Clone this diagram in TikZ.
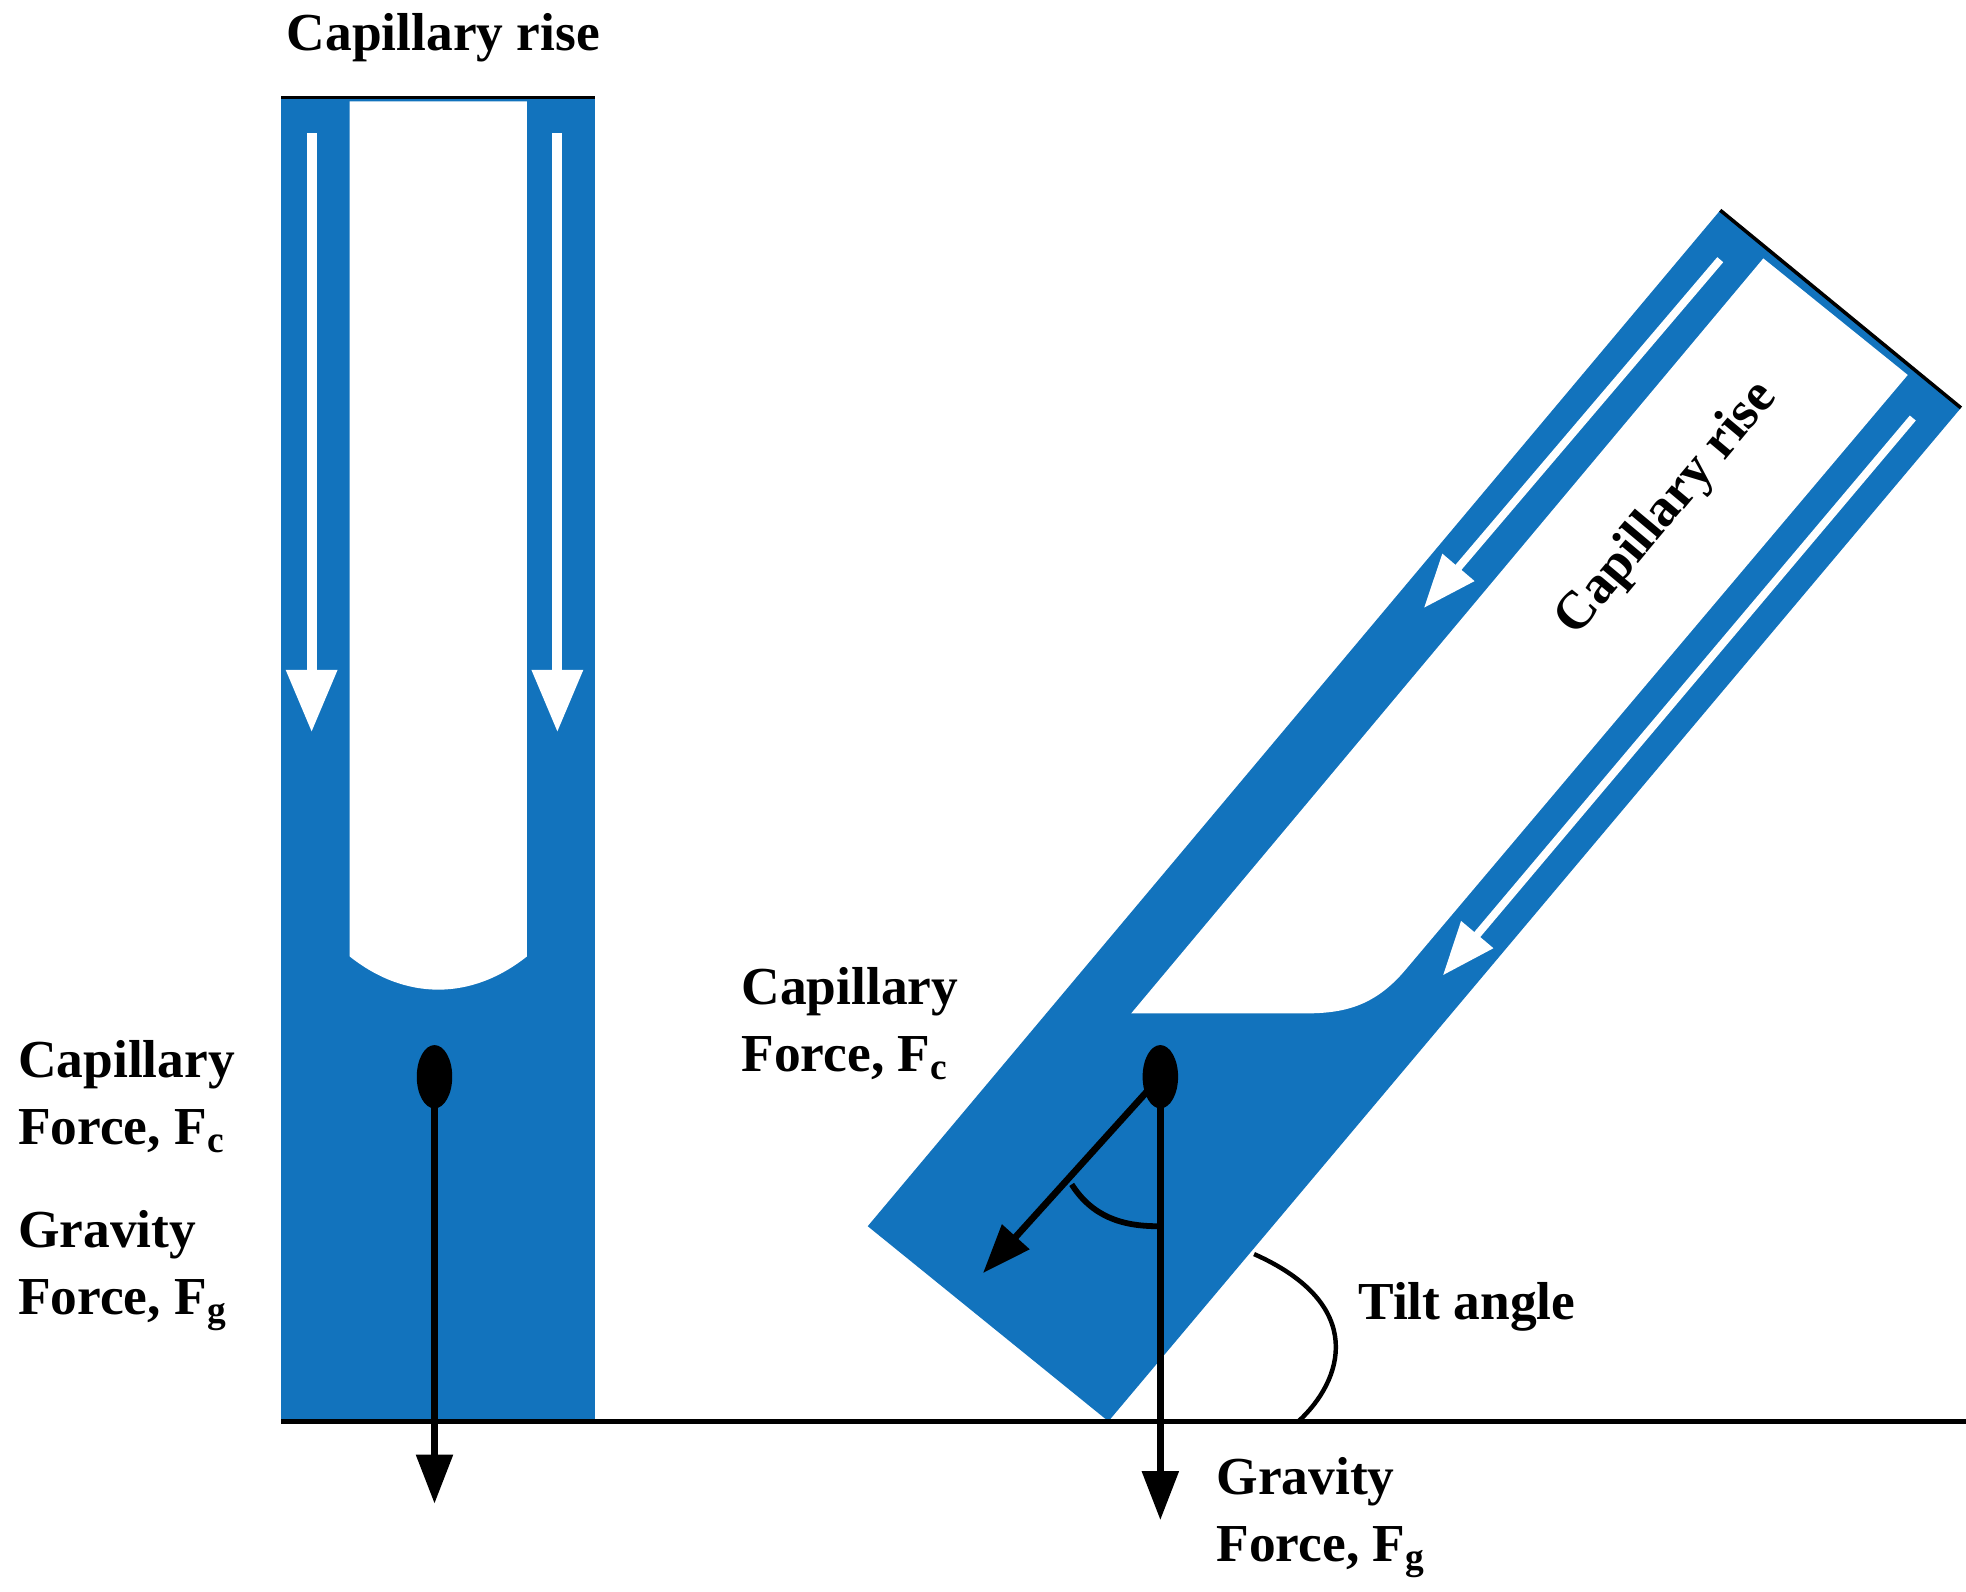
\documentclass[tikz,border=0pt]{standalone}
\usepackage{fontspec}
\setmainfont{Liberation Serif}
\usetikzlibrary{arrows.meta, shapes.geometric}
\definecolor{tube_blue}{RGB}{18,115,189}

\begin{document}
\begin{tikzpicture}[x=0.02cm, y=-0.02cm,
		lbl/.style     = {font = \fontsize{24}{30}\selectfont\bfseries,
			align = left, inner sep = 0},
		flowA/.style   = {white, line width = 4.5pt,
			-{Triangle[width=22pt,length=28pt]}},
		flowB/.style   = {white, line width = 3.5pt,
			-{Triangle[width=18pt,length=24pt]}},
		forceA/.style  = {black, line width = 3pt,
			-{Triangle[width=16pt,length=22pt]}},
		dot/.style     = {ellipse, fill = black, minimum width = 28*0.02cm,
			minimum height = 50*0.02cm, inner sep = 0}]
	\useasboundingbox (0,0) rectangle (1552,1256);

	% upright tube
	\fill[tube_blue] (222,77) rectangle (470,1122);
	\fill[white] (276,80) -- (276,755) .. controls (320,790) and (372,790) .. (416,755) -- (416,80) -- cycle;
	\draw[line width=1.6pt] (222,77) -- (470,77);
	\coordinate (la0) at (246,105); \coordinate (la1) at (246,578);
	\coordinate (ra0) at (440,105); \coordinate (ra1) at (440,578);
	\draw[flowA] (la0) -- (la1);
	\draw[flowA] (ra0) -- (ra1);

	% tilted tube
	\fill[tube_blue] (685,968) -- (875,1122) -- (1548,322) -- (1358,166) -- cycle;
	\fill[white] (893,800) -- (1392,204) -- (1506,296) -- (1110,765) .. controls (1085,795) and (1060,800) .. (1030,800) -- cycle;
	\draw[line width=1.6pt] (1358,166) -- (1548,322);
	\coordinate (ta0) at (1358,205); \coordinate (ta1) at (1124,480);
	\coordinate (tb0) at (1510,330); \coordinate (tb1) at (1139,770);
	\draw[flowB] (ta0) -- (ta1);
	\draw[flowB] (tb0) -- (tb1);

	% base line
	\coordinate (b0) at (222,1122); \coordinate (b1) at (1552,1122);
	\draw[line width=2.2pt] (b0) -- (b1);

	% forces
	\node[dot] (Lc) at (343,850) {};
	\coordinate (Lg) at (343,1187);
	\draw[forceA] (Lc.center) -- (Lg);
	\node[dot] (Tc) at (916,850) {};
	\coordinate (Tg) at (916,1200);
	\coordinate (Tt) at (776,1005);
	\draw[forceA] (Tc.center) -- (Tg);
	\draw[forceA] (Tc.center) -- (Tt);
	\draw[line width=2.6pt] (846,935) .. controls (862,960) and (885,968) .. (914,968);
	\draw[line width=2pt] (990,990) .. controls (1080,1030) and (1060,1090) .. (1025,1122);

	% labels
	\node[lbl] (capTop) at (350,30) {Capillary rise};
	\node[lbl, anchor=west] (capL) at (14,866) {Capillary\\Force, F$_{\mathbf c}$};
	\node[lbl, anchor=west] (gravL) at (14,1003) {Gravity\\Force, F$_{\mathbf g}$};
	\node[lbl, anchor=west] (capT) at (585,808) {Capillary\\Force, F$_{\mathbf c}$};
	\node[lbl, anchor=west] (tilt) at (1072,1032) {Tilt angle};
	\node[lbl, anchor=west] (gravT) at (960,1198) {Gravity\\Force, F$_{\mathbf g}$};
	\node[lbl, rotate=50] (capRot) at (1316,402) {Capillary rise};
\end{tikzpicture}
\end{document}
